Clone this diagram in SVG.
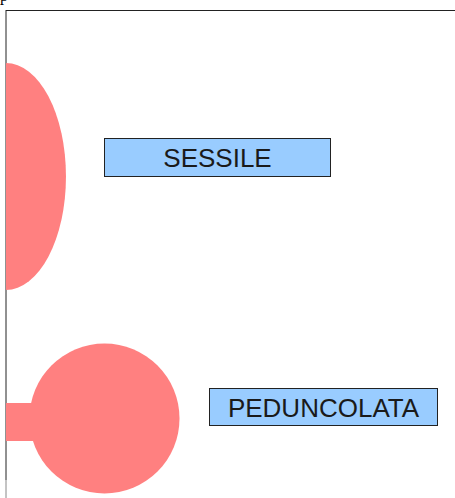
<svg xmlns="http://www.w3.org/2000/svg" width="455" height="498" viewBox="0 0 455 498">
<style>
.shape{fill:#ff8080;stroke:none}
.box{fill:#99ccff;stroke:#222;stroke-width:1}
.lbl{font-family:"Liberation Sans",Arial,sans-serif;font-size:26px;fill:#1a1a1a;text-anchor:middle}
.frame{stroke:#222;stroke-width:1;fill:none}
</style>
<rect width="455" height="498" fill="#fff"/>
<text x="0" y="1" font-family="Liberation Serif,serif" font-size="16" fill="#000">p</text>
<g id="frame">
<path class="frame" d="M6 10.5H455M6 10V480"/>
<path d="M6 480V498" stroke="#888" stroke-width="1"/>
</g>
<g id="sessile-shape">
<path class="shape" d="M6 63A60 113.5 0 0 1 6 290Z"/>
</g>
<g id="peduncolata-shape">
<rect class="shape" x="6" y="403" width="30" height="38"/>
<circle class="shape" cx="104.5" cy="418.5" r="75"/>
</g>
<g id="sessile">
<rect class="box" x="104.5" y="138.5" width="226" height="38"/>
<text class="lbl" x="217.5" y="166.5">SESSILE</text>
</g>
<g id="peduncolata">
<rect class="box" x="209.5" y="388.5" width="228" height="37"/>
<text class="lbl" x="323.5" y="416.5">PEDUNCOLATA</text>
</g>
<g id="connectors"/>
</svg>
